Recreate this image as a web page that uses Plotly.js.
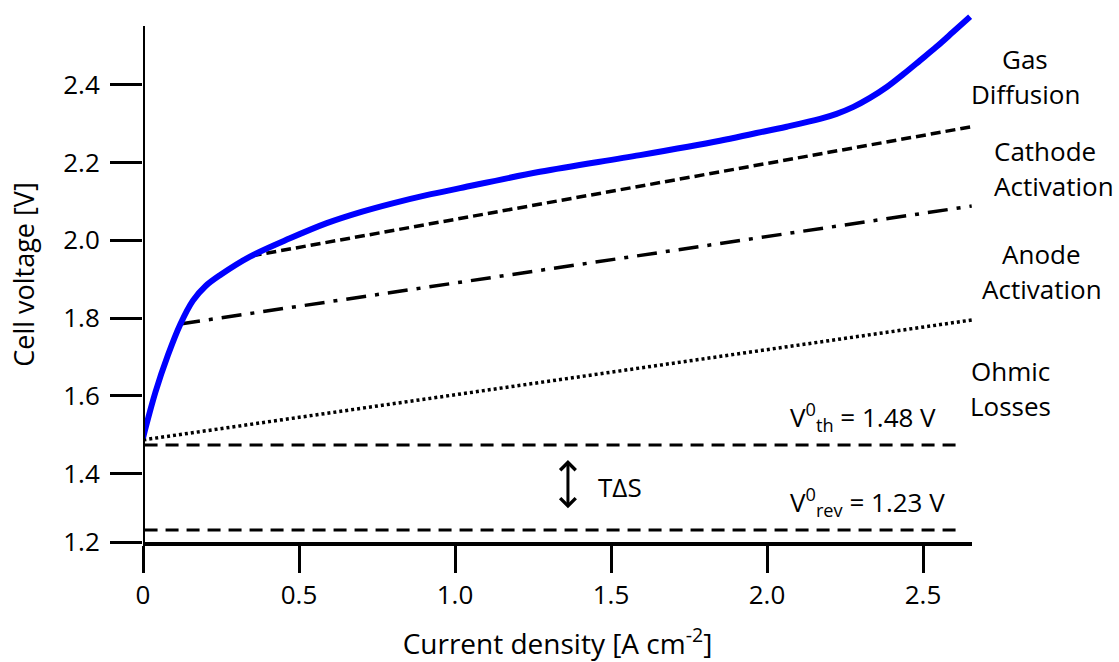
<!DOCTYPE html>
<html>
<head>
<meta charset="utf-8">
<script src="https://cdn.plot.ly/plotly-3.0.1.min.js"></script>
<style>
  html, body { margin: 0; padding: 0; background: #ffffff; }
  #chart { width: 1119px; height: 662px; }
</style>
</head>
<body>
<div id="chart"></div>
<script>
// ---- Data ----
const cellX = [0.000, 0.040, 0.080, 0.120, 0.160, 0.200, 0.250, 0.343, 0.471, 0.589, 0.700, 0.800, 0.909, 1.016, 1.272, 1.593, 1.849, 1.956, 2.063, 2.170, 2.223, 2.277, 2.330, 2.384, 2.437, 2.490, 2.544, 2.597, 2.651];
const cellY = [1.492, 1.610, 1.705, 1.785, 1.845, 1.882, 1.912, 1.958, 2.005, 2.044, 2.073, 2.095, 2.116, 2.134, 2.176, 2.219, 2.256, 2.274, 2.292, 2.312, 2.325, 2.343, 2.366, 2.394, 2.427, 2.462, 2.498, 2.536, 2.575];

const cathodeX = [0.348, 2.656];
const cathodeY = [1.960, 2.292];

const anodeX = [0.119, 2.656];
const anodeY = [1.785, 2.088];

const ohmicX = [0.001, 2.656];
const ohmicY = [1.487, 1.795];

const refLineX = [0.005, 2.625];
const thermoneutralY = [1.474, 1.474];
const reversibleY = [1.255, 1.255];

const arrowX = 1.362;
const arrowTop = 1.435;
const arrowBottom = 1.307;

const X_MIN = 0, X_MAX = 2.657;
const Y_MIN = 1.2244, Y_MAX = 2.5997, Y_AXIS_TOP = 2.551;

const xTickVals = [0, 0.5, 1.0, 1.5, 2.0, 2.5];
const xTickText = ['0', '0.5', '1.0', '1.5', '2.0', '2.5'];
const yTickVals = [Y_MIN, 1.4, 1.6, 1.8, 2.0, 2.2, 2.4];
const yTickText = ['1.2', '1.4', '1.6', '1.8', '2.0', '2.2', '2.4'];

const FONT = '"Open Sans", "Liberation Sans", sans-serif';

const traces = [
  { x: ohmicX, y: ohmicY, mode: 'lines', name: 'Ohmic losses',
    line: { color: '#000', width: 3.5, dash: '3px,3px' }, hoverinfo: 'skip' },
  { x: anodeX, y: anodeY, mode: 'lines', name: 'Anode activation',
    line: { color: '#000', width: 3.5, dash: '20px,9px,4px,9px' }, hoverinfo: 'skip' },
  { x: cathodeX, y: cathodeY, mode: 'lines', name: 'Cathode activation',
    line: { color: '#000', width: 3.5, dash: '10px,5px' }, hoverinfo: 'skip' },
  { x: refLineX, y: thermoneutralY, mode: 'lines', name: 'V0th',
    line: { color: '#000', width: 3, dash: '13px,8px' }, hoverinfo: 'skip' },
  { x: refLineX, y: reversibleY, mode: 'lines', name: 'V0rev',
    line: { color: '#000', width: 3, dash: '13px,8px' }, hoverinfo: 'skip' },
  { x: cellX, y: cellY, mode: 'lines', name: 'Cell voltage',
    line: { color: '#0000ff', width: 6, shape: 'spline', smoothing: 1 }, hoverinfo: 'skip' }
];

const annFont = { family: FONT, size: 26, color: '#000' };

function label(text, x, y, xanchor) {
  return { xref: 'paper', yref: 'paper', x: x, y: y, xanchor: xanchor || 'center', yanchor: 'middle',
           text: text, showarrow: false, font: annFont };
}

const layout = {
  width: 1119, height: 662,
  margin: { l: 143, r: 147, t: 7, b: 120, pad: 0 },
  paper_bgcolor: '#fff', plot_bgcolor: '#fff',
  showlegend: false,
  font: { family: FONT, size: 26, color: '#000' },
  xaxis: {
    range: [X_MIN, X_MAX], showgrid: false, zeroline: false,
    showline: true, linecolor: '#000', linewidth: 4,
    ticks: 'outside', ticklen: 27, tickwidth: 3, tickcolor: '#000',
    tickvals: xTickVals, ticktext: xTickText,
    tickfont: { family: FONT, size: 26, color: '#000' },
    title: { text: 'Current density [A cm<sup>-2</sup>]', font: { family: FONT, size: 28, color: '#000' }, standoff: 24 },
    automargin: false, fixedrange: true
  },
  yaxis: {
    range: [Y_MIN, Y_MAX], showgrid: false, zeroline: false,
    showline: false,
    ticks: 'outside', ticklen: 32, tickwidth: 3, tickcolor: '#000',
    ticklabelstandoff: 5,
    tickvals: yTickVals, ticktext: yTickText,
    tickfont: { family: FONT, size: 26, color: '#000' },
    title: { text: 'Cell voltage [V]', font: { family: FONT, size: 27, color: '#000' }, standoff: 20 },
    automargin: false, fixedrange: true
  },
  shapes: [
    { type: 'line', xref: 'x', yref: 'y', x0: X_MIN, x1: X_MIN, y0: Y_MIN, y1: Y_AXIS_TOP,
      line: { color: '#000', width: 4 } }
  ],
  annotations: [
    label('Gas', 1.064, 0.9028),
    label('Diffusion', 1.064, 0.8374),
    label('Cathode', 1.024, 0.7308, 'left'),
    label('Activation', 1.024, 0.6654, 'left'),
    label('Anode', 1.084, 0.5383),
    label('Activation', 1.084, 0.4729),
    label('Ohmic', 1.046, 0.3196),
    label('Losses', 1.046, 0.2542),
    label('V<sup>0</sup><sub>th</sub> = 1.48 V', 0.8685, 0.234),
    label('V<sup>0</sup><sub>rev</sub> = 1.23 V', 0.8745, 0.0753),
    label('TΔS', 0.5754, 0.1035),
    { xref: 'x', yref: 'y', axref: 'x', ayref: 'y',
      x: arrowX, y: arrowTop, ax: arrowX, ay: arrowBottom,
      text: '', showarrow: true, arrowside: 'end+start', arrowhead: 4, arrowsize: 1,
      arrowwidth: 3, arrowcolor: '#000', standoff: 0, startstandoff: 0 }
  ]
};

Plotly.newPlot('chart', traces, layout, { displayModeBar: false });
</script>
</body>
</html>
